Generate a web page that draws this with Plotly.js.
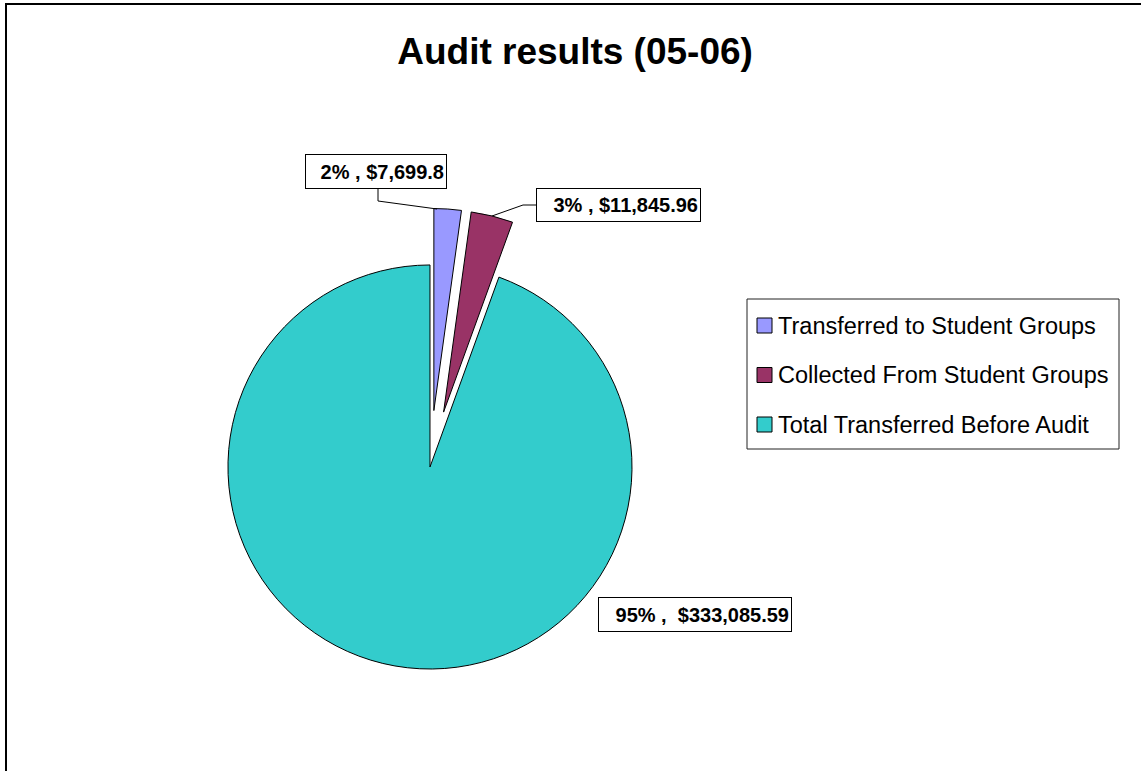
<!DOCTYPE html>
<html>
<head>
<meta charset="utf-8">
<script src="https://cdn.plot.ly/plotly-3.0.1.min.js"></script>
<style>
html,body{margin:0;padding:0;background:#fff;}
#chart{width:1141px;height:771px;}
</style>
</head>
<body>
<div id="chart"></div>
<script>
var categories = ["Transferred to Student Groups", "Collected From Student Groups", "Total Transferred Before Audit"];
var amounts = [7699.8, 11845.96, 333085.59];
var sliceLabels = ["2% , $7,699.8", "3% , $11,845.96", "95% ,  $333,085.59"];
var sliceColors = ["#9999FF", "#993366", "#33CCCC"];
var pulls = [0.28, 0.28, 0];
var chartTitle = "Audit results (05-06)";

var W = 1141, H = 771;
function px(x){ return x / W; }
function py(y){ return 1 - y / H; }
var FONT = "Liberation Sans, Arial, sans-serif";

var trace = {
  type: "pie",
  values: amounts,
  labels: categories,
  marker: {colors: sliceColors, line: {color: "#000", width: 1}},
  pull: pulls,
  sort: false,
  direction: "clockwise",
  rotation: 0,
  textinfo: "none",
  hoverinfo: "none",
  showlegend: false,
  domain: {x: [0.1502, 0.6035], y: [0.0589, 0.7297]}
};

var annotations = [];
var shapes = [];

// outer chart border (left/top visible)
shapes.push({type: "rect", xref: "paper", yref: "paper", x0: px(6), x1: 1.02, y0: -0.02, y1: py(4),
  line: {color: "#000", width: 2}, fillcolor: "rgba(0,0,0,0)"});

// data label boxes
var boxes = [
  {l: 305, t: 154, w: 142, h: 35},
  {l: 536, t: 188, w: 165, h: 34},
  {l: 598, t: 597, w: 194, h: 35}
];
for (var i = 0; i < sliceLabels.length; i++) {
  var b = boxes[i];
  annotations.push({
    xref: "paper", yref: "paper", x: px(b.l), y: py(b.t),
    xanchor: "left", yanchor: "top", showarrow: false,
    text: "<b>" + sliceLabels[i] + "</b>",
    font: {family: FONT, size: 20, color: "#000"},
    align: "right", valign: "middle",
    width: b.w - 6, height: b.h - 6,
    bordercolor: "#000", borderwidth: 1, borderpad: 2, bgcolor: "#fff"
  });
}
// leader lines
var leaders = [
  [[378, 189], [378, 201], [437, 209]],
  [[536, 205], [523, 205], [492, 216]]
];
leaders.forEach(function(pts){
  var p = pts.map(function(q, k){ return (k ? "L" : "M") + px(q[0]) + "," + py(q[1]); }).join(" ");
  shapes.push({type: "path", xref: "paper", yref: "paper", path: p, line: {color: "#000", width: 1}});
});

// legend
shapes.push({type: "rect", xref: "paper", yref: "paper", x0: px(747), x1: px(1119), y0: py(449), y1: py(299),
  line: {color: "#222", width: 1}, fillcolor: "#fff", layer: "below"});
var legendY = [325.5, 375, 424.5];
for (var j = 0; j < categories.length; j++) {
  shapes.push({type: "rect", xref: "paper", yref: "paper",
    x0: px(757), x1: px(772), y0: py(legendY[j] + 7.5), y1: py(legendY[j] - 7.5),
    line: {color: "#000", width: 1}, fillcolor: sliceColors[j]});
  annotations.push({
    xref: "paper", yref: "paper", x: px(776), y: py(legendY[j]),
    xanchor: "left", yanchor: "middle", showarrow: false,
    text: categories[j],
    font: {family: FONT, size: 23.5, color: "#000"}
  });
}

var layout = {
  width: W, height: H,
  margin: {l: 0, r: 0, t: 0, b: 0},
  paper_bgcolor: "#fff",
  plot_bgcolor: "#fff",
  showlegend: false,
  title: {
    text: "<b>" + chartTitle + "</b>",
    x: 0.504, xanchor: "center", xref: "paper",
    y: 1 - 51 / H, yanchor: "middle", yref: "container",
    font: {family: FONT, size: 37, color: "#000"}
  },
  annotations: annotations,
  shapes: shapes
};

Plotly.newPlot("chart", [trace], layout, {staticPlot: true, displayModeBar: false});
</script>
</body>
</html>
